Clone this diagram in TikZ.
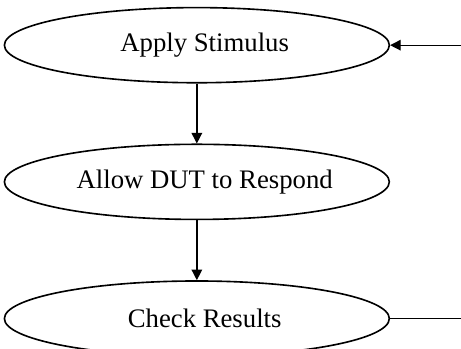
\documentclass[tikz,border=0pt]{standalone}
\usepackage{fontspec}
\setmainfont{Liberation Serif}
\usetikzlibrary{positioning, arrows.meta, shapes.geometric}

\begin{document}
\begin{tikzpicture}[
    stepnode/.style={draw, ellipse, line width=1pt, inner sep=0pt,
      minimum width=8.35cm, minimum height=1.63cm,
      font=\fontsize{16.5}{19}\selectfont,
      execute at begin node=\hspace*{0.34cm}},
    flow/.style={line width=0.8pt, -{Triangle[length=6.5pt, width=6.5pt]}}
  ]
    % page: 10 x 7.57 units, the last ellipse runs just past the bottom edge
    \useasboundingbox (0,0) rectangle (10,7.57);

    %% ── the three steps ─────────────────────────────────────────────
    \node[stepnode] (stim) at (4.27,6.59) {Apply Stimulus};
    \node[stepnode, below=1.3cm of stim] (resp) {Allow DUT to Respond};
    \node[stepnode, below=1.3cm of resp] (check) {Check Results};

    %% ── downward flow ───────────────────────────────────────────────
    \draw[flow] (stim) -- (resp);
    \draw[flow] (resp) -- (check);

    %% ── loop back (leaves the page on the right) ─────────────────────
    \coordinate (loopout) at (check.east -| 10,0);
    \coordinate (loopin)  at (stim.east -| 10,0);
    \draw[line width=0.8pt] (check.east) -- (loopout);
    \draw[flow] (loopin) -- (stim.east);

  \end{tikzpicture}
\end{document}
